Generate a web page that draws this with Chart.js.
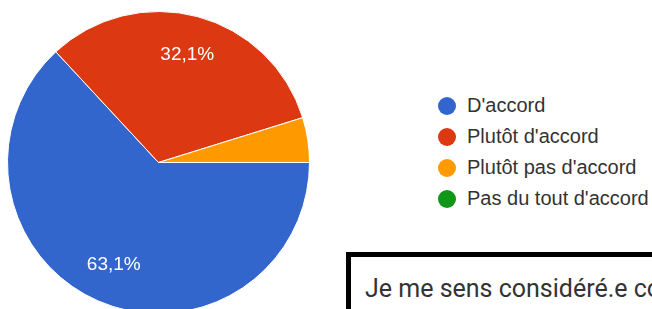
<!DOCTYPE html>
<html>
<head>
<meta charset="utf-8">
<script src="https://cdn.jsdelivr.net/npm/chart.js@4/dist/chart.umd.min.js"></script>
<style>
  html, body { margin: 0; padding: 0; width: 652px; height: 309px; overflow: hidden; background: #ffffff; font-family: "Liberation Sans", Arial, sans-serif; }
  #pieWrap { position: absolute; left: 7px; top: 11px; width: 303px; height: 303px; }
  #legend { position: absolute; left: 438px; top: 90px; }
  .item { display: flex; align-items: center; height: 31px; font-size: 20px; color: #333; white-space: nowrap; }
  .dot { width: 18px; height: 18px; border-radius: 50%; margin-right: 11px; flex: none; }
  #box { position: absolute; left: 346px; top: 252px; width: 330px; height: 80px; border: 5px solid #000; box-sizing: border-box; background: #fff; }
  #box span { position: absolute; left: 14px; top: 17px; font-family: Roboto, "Liberation Sans", sans-serif; font-size: 25px; color: #333; white-space: nowrap; }
</style>
</head>
<body>
<div id="pieWrap"><canvas id="c"></canvas></div>
<div id="legend"></div>
<div id="box"><span>Je me sens considéré.e comme</span></div>
<script>
const labels = ["D'accord", "Plutôt d'accord", "Plutôt pas d'accord", "Pas du tout d'accord"];
const values = [63.1, 32.1, 4.8, 0];
const colors = ["#3366CC", "#DC3912", "#FF9900", "#109618"];

const legend = document.getElementById('legend');
labels.forEach((l, i) => {
  const d = document.createElement('div');
  d.className = 'item';
  d.innerHTML = '<span class="dot" style="background:' + colors[i] + '"></span><span>' + l + '</span>';
  legend.appendChild(d);
});

const sliceLabels = {
  id: 'sliceLabels',
  afterDatasetsDraw(chart) {
    const ctx = chart.ctx;
    const meta = chart.getDatasetMeta(0);
    const total = values.reduce((a, b) => a + b, 0);
    ctx.save();
    ctx.fillStyle = '#ffffff';
    ctx.font = '19px "Liberation Sans", Arial, sans-serif';
    ctx.textAlign = 'center';
    ctx.textBaseline = 'middle';
    meta.data.forEach((arc, i) => {
      const pct = values[i] / total * 100;
      if (pct < 10) return;
      const p = arc.getProps(['x', 'y', 'startAngle', 'endAngle', 'outerRadius'], true);
      const mid = (p.startAngle + p.endAngle) / 2;
      const r = p.outerRadius * 0.74;
      const txt = pct.toFixed(1).replace('.', ',') + '%';
      ctx.fillText(txt, p.x + Math.cos(mid) * r, p.y + Math.sin(mid) * r);
    });
    ctx.restore();
  }
};

new Chart(document.getElementById('c'), {
  type: 'pie',
  data: {
    labels: labels,
    datasets: [{
      data: values,
      backgroundColor: colors,
      borderColor: '#ffffff',
      borderWidth: 1
    }]
  },
  options: {
    responsive: true,
    maintainAspectRatio: false,
    animation: false,
    rotation: 90,
    layout: { padding: 0 },
    plugins: {
      legend: { display: false },
      tooltip: { enabled: false }
    }
  },
  plugins: [sliceLabels]
});
</script>
</body>
</html>
